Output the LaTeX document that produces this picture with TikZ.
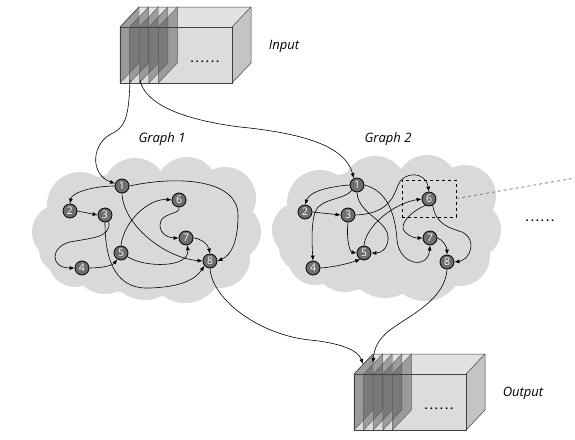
\documentclass[tikz,border=0pt]{standalone}
\usepackage{fontspec}
\setmainfont{Open Sans}
\newfontfamily\dotfont[LetterSpace=18]{Open Sans}
\usetikzlibrary{arrows.meta}
\definecolor{cloudgray}{HTML}{D9D9D9}
\definecolor{nodegray}{HTML}{6E6E6E}
\definecolor{frontgray}{HTML}{DCDCDC}
\definecolor{topgray}{HTML}{E2E2E2}
\definecolor{sidegray}{HTML}{C4C4C4}
\definecolor{planegray}{HTML}{5A5A5A}
\begin{document}
\begin{tikzpicture}[x=1pt,y=-1pt,
  gnode/.style={circle,draw=black,fill=nodegray,line width=0.8pt,minimum size=14pt,inner sep=0pt,text=white,font=\fontsize{10.5}{10.5}\selectfont},
  arr/.style={-{Latex[length=5pt,width=4pt]},line width=0.6pt},
  lbl/.style={font=\fontsize{13}{13}\selectfont\itshape,text=black},
  dots/.style={font=\dotfont\bfseries\fontsize{11}{11}\selectfont,inner sep=0pt},
  boxline/.style={draw=black!75,line width=0.5pt},
  planeline/.style={draw=black!65,line width=0.4pt},
  cloudshape/.pic={
    \fill[cloudgray] (147,232) ellipse (105 and 62)
      (60,232) circle (28) (62,250) circle (23) (80,205) circle (33)
      (135,190) circle (32) (187,188) circle (31) (225,198) circle (31)
      (232,232) circle (29) (220,258) circle (30) (185,265) circle (38)
      (145,262) circle (38) (105,262) circle (32) (75,260) circle (27);
  },
  slicebox/.pic={
    \fill[frontgray] (0,0) rectangle (112,56);
    \fill[topgray] (0,0) -- (19,-20) -- (131,-20) -- (112,0) -- cycle;
    \fill[sidegray] (112,0) -- (131,-20) -- (131,36) -- (112,56) -- cycle;
    \foreach \i in {0,...,4}{
      \fill[planegray,fill opacity=0.5] (\i*9.6,0) -- ++(19,-20) -- ++(0,56) -- ++(-19,20) -- cycle;
      \draw[planeline] (\i*9.6,0) -- ++(19,-20) -- ++(0,56) -- ++(-19,20) -- cycle;
    }
    \draw[boxline] (0,0) rectangle (112,56);
    \draw[boxline] (0,0) -- (19,-20) -- (131,-20) -- (131,36) -- (112,56);
    \draw[boxline] (112,0) -- (131,-20);
    \node[dots] at (85,35) {......};
  }]
\useasboundingbox (0,0) rectangle (575,439);

% clouds
\pic at (0,0) {cloudshape};
\pic at (240,-2) {cloudshape};

% boxes
\pic at (120,27) {slicebox};
\pic at (354,374) {slicebox};

\node[lbl] at (284,46) {Input};
\node[lbl] at (523,393) {Output};
\node[lbl] at (162,139) {Graph 1};
\node[lbl] at (388,139) {Graph 2};
\node[dots] at (540,221) {......};

\coordinate (in1) at (130,80);
\coordinate (in2) at (140,80);
\coordinate (out1) at (363,364);
\coordinate (out2) at (373,363);

% graph 1 nodes
\node[gnode] (g1n1) at (122,186) {1};
\node[gnode] (g1n2) at (70,211) {2};
\node[gnode] (g1n3) at (105,215) {3};
\node[gnode] (g1n4) at (82,268) {4};
\node[gnode] (g1n5) at (121,253) {5};
\node[gnode] (g1n6) at (179,200) {6};
\node[gnode] (g1n7) at (186,238) {7};
\node[gnode] (g1n8) at (210,261) {8};

% graph 2 nodes
\node[gnode] (g2n1) at (357,185) {1};
\node[gnode] (g2n2) at (305,212) {2};
\node[gnode] (g2n3) at (348,215) {3};
\node[gnode] (g2n4) at (313,268) {4};
\node[gnode] (g2n5) at (364,253) {5};
\node[gnode] (g2n6) at (429,199) {6};
\node[gnode] (g2n7) at (430,238) {7};
\node[gnode] (g2n8) at (447,262) {8};

% dashed focus
\node[draw=black,dashed,line width=0.8pt,minimum width=54pt,minimum height=37pt,inner sep=0pt] (focus) at (429,198.5) {};
\coordinate (farend) at (575,178);
\draw[black!60,dashed,line width=0.7pt] (focus.east) -- (farend);

% input to graphs
\draw[arr] (in1) .. controls (129,110) and (127,125) .. (115,132) .. controls (90,142) and (90,175) .. (g1n1.160);
\draw[arr] (in2) .. controls (145,105) and (185,120) .. (240,127) .. controls (300,133) and (345,145) .. (g2n1.115);

% graph 1 edges
\draw[arr] (g1n1.west) .. controls (95,186) and (72,192) .. (g1n2.north);
\draw[arr] (g1n2.east) -- (g1n3.west);
\draw[arr] (g1n3.-60) .. controls (112,238) and (90,238) .. (70,242) .. controls (50,247) and (50,268) .. (g1n4.west);
\draw[arr] (g1n4.east) .. controls (100,268) and (112,266) .. (g1n5.-120);
\draw[arr] (g1n5.north) .. controls (124,220) and (150,198) .. (g1n6.west);
\draw[arr] (g1n5.-30) .. controls (145,268) and (190,268) .. (g1n7.-80);
\draw[arr] (g1n6.south) .. controls (181,215) and (160,212) .. (160,225) .. controls (160,235) and (170,238) .. (g1n7.west);
\draw[arr] (g1n7.east) .. controls (200,238) and (208,244) .. (g1n8.north);
\draw[arr] (g1n3.south) .. controls (105,250) and (110,290) .. (150,288) .. controls (180,287) and (195,280) .. (g1n8.-140);
\draw[arr] (g1n1.south) .. controls (123,225) and (165,258) .. (g1n8.west);
\draw[arr] (g1n1.east) .. controls (180,175) and (238,180) .. (238,215) .. controls (238,240) and (232,255) .. (g1n8.east);

% graph 2 edges
\draw[arr] (g2n1.west) .. controls (335,186) and (310,190) .. (g2n2.north);
\draw[arr] (g2n1.-135) .. controls (345,200) and (320,198) .. (315,212) .. controls (311,225) and (312,245) .. (g2n4.north);
\draw[arr] (g2n2.east) -- (g2n3.west);
\draw[arr] (g2n3.south) .. controls (346,240) and (350,252) .. (g2n5.west);
\draw[arr] (g2n3.east) .. controls (385,214) and (393,200) .. (398,185) .. controls (403,172) and (425,170) .. (g2n6.north);
\draw[arr] (g2n1.south) .. controls (358,215) and (390,220) .. (388,240) .. controls (387,250) and (380,253) .. (g2n5.east);
\draw[arr] (g2n5.north) .. controls (366,225) and (395,203) .. (g2n6.west);
\draw[arr] (g2n1.east) .. controls (385,190) and (395,210) .. (397,240) .. controls (399,265) and (428,270) .. (g2n7.south);
\draw[arr] (g2n4.east) .. controls (335,267) and (350,263) .. (g2n5.-120);
\draw[arr] (g2n6.-120) .. controls (410,212) and (398,225) .. (405,232) .. controls (410,237) and (415,238) .. (g2n7.west);
\draw[arr] (g2n6.-60) .. controls (436,225) and (450,228) .. (462,232) .. controls (478,240) and (470,260) .. (g2n8.east);
\draw[arr] (g2n7.east) .. controls (444,240) and (447,248) .. (g2n8.north);

% graphs to output
\draw[arr] (g1n8.south) .. controls (212,300) and (260,335) .. (310,340) .. controls (340,343) and (358,350) .. (out1);
\draw[arr] (g2n8.south) .. controls (445,300) and (410,315) .. (390,330) .. controls (377,340) and (374,350) .. (out2);
\end{tikzpicture}
\end{document}
